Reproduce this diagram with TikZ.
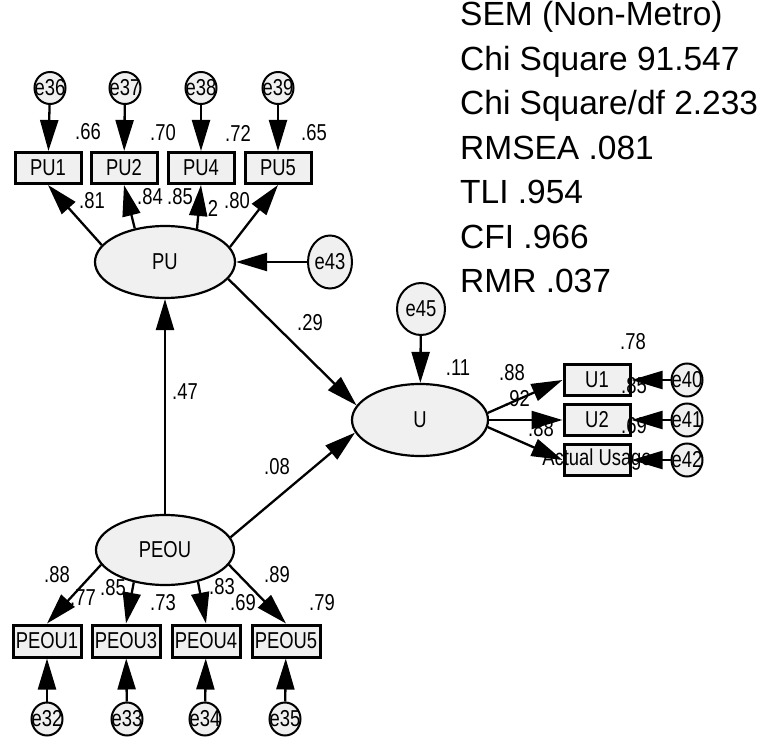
\documentclass[tikz,border=0pt]{standalone}
\usepackage{fontspec}
\setmainfont{Liberation Sans}
\newfontfamily\nar[FakeStretch=0.8]{Liberation Sans}
\usetikzlibrary{arrows.meta,shapes.geometric}
\tikzset{
  smallfont/.style={font=\nar\fontsize{23}{23}\selectfont},
  obs/.style={draw, line width=3pt, fill=gray!12, minimum width=66pt, minimum height=31pt, inner sep=0pt, smallfont},
  lat/.style={ellipse, draw, line width=2.2pt, fill=gray!12, inner sep=0pt, smallfont},
  err/.style={ellipse, draw, line width=2pt, fill=gray!12, inner sep=0pt, minimum width=31pt, minimum height=32pt, smallfont},
  arr/.style={-{Triangle[length=31pt,width=18pt]}, line width=2.3pt},
  lbl/.style={inner sep=0pt, smallfont},
  ttl/.style={anchor=base west, inner sep=0pt, font=\fontsize{33.5}{34}\selectfont}
}
\begin{document}
\begin{tikzpicture}[x=1pt,y=-1pt]
\useasboundingbox (0,0) rectangle (761,738);
% title
\node[ttl] (t1) at (460,26) {SEM (Non-Metro)};
\node[ttl] (t2) at (460,70.5) {Chi Square 91.547};
\node[ttl] (t3) at (460,115) {Chi Square/df 2.233};
\node[ttl] (t4) at (460,159.5) {RMSEA .081};
\node[ttl] (t5) at (460,204) {TLI .954};
\node[ttl] (t6) at (460,248.5) {CFI .966};
\node[ttl] (t7) at (460,293) {RMR .037};
% PU indicators
\node[err] (e36) at (50,88) {\makebox[0pt]{e36}};
\node[err] (e37) at (125,88) {\makebox[0pt]{e37}};
\node[err] (e38) at (201,88) {\makebox[0pt]{e38}};
\node[err] (e39) at (278,88) {\makebox[0pt]{e39}};
\node[obs] (PU1) at (48,168) {PU1};
\node[obs] (PU2) at (124,168) {PU2};
\node[obs] (PU4) at (201,168) {PU4};
\node[obs] (PU5) at (278,168) {PU5};
% latent
\node[lat, minimum width=140pt, minimum height=72pt] (PU) at (165,262) {PU};
\node[err, minimum width=44pt, minimum height=53pt] (e43) at (330,262) {e43};
\node[lat, minimum width=136pt, minimum height=72pt] (U) at (420,420) {U};
\node[err, minimum width=48pt, minimum height=52pt] (e45) at (421,309) {e45};
\node[lat, minimum width=138pt, minimum height=70pt] (PEOU) at (165,550) {PEOU};
% U indicators
\node[obs] (U1) at (597,380) {U1};
\node[obs] (U2) at (597,420) {U2};
\node[obs] (AU) at (597,460) {\makebox[0pt]{Actual Usage}};
\node[err, minimum height=33pt] (e40) at (687,380) {\makebox[0pt]{e40}};
\node[err, minimum height=33pt] (e41) at (687,420) {\makebox[0pt]{e41}};
\node[err, minimum height=33pt] (e42) at (687,460) {\makebox[0pt]{e42}};
% PEOU indicators
\node[obs, minimum width=68pt, minimum height=32pt] (PEOU1) at (47,641) {\makebox[0pt]{PEOU1}};
\node[obs, minimum width=68pt, minimum height=32pt] (PEOU3) at (126,641) {\makebox[0pt]{PEOU3}};
\node[obs, minimum width=68pt, minimum height=32pt] (PEOU4) at (206,641) {\makebox[0pt]{PEOU4}};
\node[obs, minimum width=68pt, minimum height=32pt] (PEOU5) at (286,641) {\makebox[0pt]{PEOU5}};
\node[err, minimum height=33pt] (e32) at (47,719) {\makebox[0pt]{e32}};
\node[err, minimum height=33pt] (e33) at (127,719) {\makebox[0pt]{e33}};
\node[err, minimum height=33pt] (e34) at (205,719) {\makebox[0pt]{e34}};
\node[err, minimum height=33pt] (e35) at (285,719) {\makebox[0pt]{e35}};
% labels
\node[lbl] (l1) at (88,132) {.66};
\node[lbl] (l2) at (163,133) {.70};
\node[lbl] (l3) at (238,133) {.72};
\node[lbl] (l4) at (314,133) {.65};
\node[lbl] (l5) at (92,201) {.81};
\node[lbl] (l6) at (150,197) {.84};
\node[lbl] (l7) at (180,197) {.85};
\node[lbl] (l8) at (213,208) {2};
\node[lbl] (l9) at (237,201) {.80};
\node[lbl] (l10) at (310,323) {.29};
\node[lbl] (l11) at (185,392) {.47};
\node[lbl] (l12) at (277,467) {.08};
\node[lbl] (l13) at (458,368) {.11};
\node[lbl] (l14) at (633,342) {.78};
\node[lbl] (l15) at (512,373) {.88};
\node[lbl] (l16) at (517,399) {.92};
\node[lbl] (l17) at (541,429) {.88};
\node[lbl] (l18) at (634,386) {.85};
\node[lbl] (l19) at (634,426) {.69};
\node[lbl] (l20) at (57,575) {.88};
\node[lbl] (l21) at (83,598) {.77};
\node[lbl] (l22) at (113,588) {.85};
\node[lbl] (l23) at (163,603) {.73};
\node[lbl] (l24) at (222,587) {.83};
\node[lbl] (l25) at (243,603) {.69};
\node[lbl] (l26) at (277,575) {.89};
\node[lbl] (l27) at (322,603) {.79};
% arrows
\draw[arr] (e36) -- (PU1);
\draw[arr] (e37) -- (PU2);
\draw[arr] (e38) -- (PU4);
\draw[arr] (e39) -- (PU5);
\draw[arr] (PU.165) -- (PU1.south);
\draw[arr] (PU.132) -- (PU2.south);
\draw[arr] (PU.46) -- (PU4.south);
\draw[arr] (PU.13) -- (PU5.south);
\draw[arr] (e43) -- (PU);
\draw[arr] (PU.-15) -- (U.167);
\draw[arr] (PEOU) -- (PU);
\draw[arr] (PEOU.11) -- (U.191);
\draw[arr] (e45) -- (U);
\draw[arr] (U.6) -- (U1.west);
\draw[arr] (U.0) -- (U2.west);
\draw[arr] (U.-6) -- (AU.west);
\draw[arr] (e40) -- (U1);
\draw[arr] (e41) -- (U2);
\draw[arr] (e42) -- (AU);
\draw[arr] (PEOU.193) -- (PEOU1.north);
\draw[arr] (PEOU.226) -- (PEOU3.north);
\draw[arr] (PEOU.-44) -- (PEOU4.north);
\draw[arr] (PEOU.-13) -- (PEOU5.north);
\draw[arr] (e32) -- (PEOU1);
\draw[arr] (e33) -- (PEOU3);
\draw[arr] (e34) -- (PEOU4);
\draw[arr] (e35) -- (PEOU5);
\end{tikzpicture}
\end{document}
